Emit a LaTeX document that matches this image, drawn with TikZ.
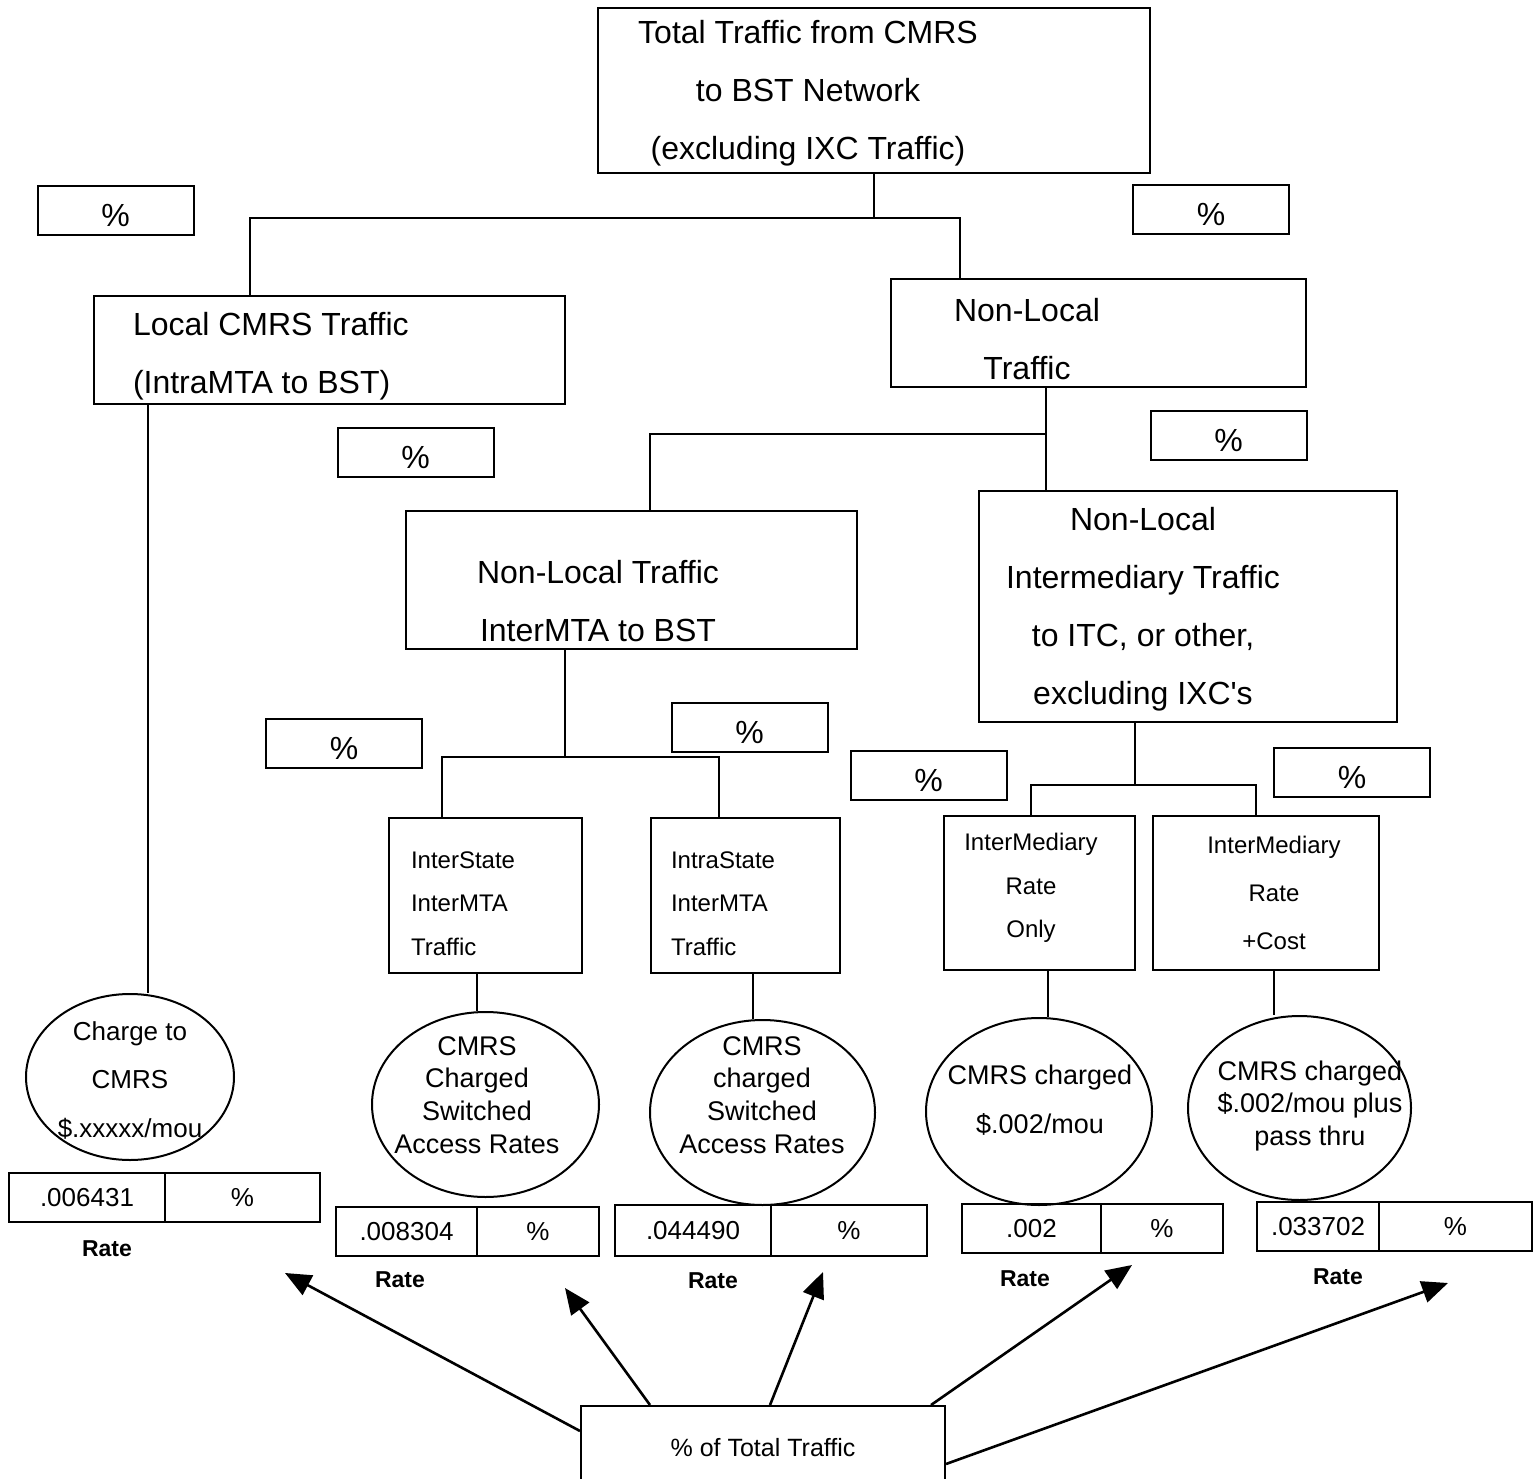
\documentclass[tikz,border=0pt]{standalone}
\usepackage{fontspec}
\setmainfont{Liberation Sans}
\usetikzlibrary{arrows.meta,shapes.geometric}

\tikzset{
  box/.style={draw, rectangle, inner sep=0pt},
  oval/.style={draw, ellipse, inner sep=0pt},
  bigtxt/.style={font=\fontsize{32}{58}\selectfont, align=center, inner sep=0pt},
  pct/.style={draw, rectangle, inner sep=0pt, minimum width=156, minimum height=49,
    font=\fontsize{32}{34}\selectfont, text height=32pt, text depth=0pt},
  cell/.style={draw, rectangle, inner sep=0pt, minimum height=49,
    font=\fontsize{26}{28}\selectfont},
  ratelbl/.style={font=\fontsize{23}{25}\selectfont\bfseries},
  arr/.style={line width=2.6pt, -{Triangle[length=26pt,width=22pt]}}
}

\begin{document}
\begin{tikzpicture}[x=1pt, y=-1pt, line width=2pt]
				\useasboundingbox (0,0) rectangle (1539,1479);

				% boxes
				\node (box1) [box, minimum width=552, minimum height=165] at (874,90.5) {};
				\node (box1t) [bigtxt] at (808,93) {Total Traffic from CMRS\\to BST Network\\(excluding IXC Traffic)};
				\node (box2) [box, minimum width=471, minimum height=108] at (329.5,350) {};
				\node (box2t) [bigtxt, align=left, anchor=west] at (132,356) {Local CMRS Traffic\\(IntraMTA to BST)};
				\node (box3) [box, minimum width=415, minimum height=108] at (1098.5,333) {};
				\node (box3t) [bigtxt] at (1027,339) {Non-Local\\Traffic};
				\node (box4) [box, minimum width=451, minimum height=138] at (631.5,580) {};
				\node (box4t) [bigtxt] at (598,601) {Non-Local Traffic\\InterMTA to BST};
				\node (box5) [box, minimum width=418, minimum height=231] at (1188,606.5) {};
				\node (box5t) [bigtxt] at (1143,609) {Non-Local\\Intermediary Traffic\\to ITC, or other,\\excluding IXC\textquotesingle s};
				\node (box6) [box, minimum width=193, minimum height=155] at (485.5,895.5) {};
				\node (box6t) [bigtxt, align=left, anchor=west, font=\fontsize{24}{43.5}\selectfont] at (410,903.5) {InterState\\InterMTA\\Traffic};
				\node (box7) [box, minimum width=189, minimum height=155] at (745.5,895.5) {};
				\node (box7t) [bigtxt, align=left, anchor=west, font=\fontsize{24}{43.5}\selectfont] at (670,903.5) {IntraState\\InterMTA\\Traffic};
				\node (box8) [box, minimum width=191, minimum height=154] at (1039.5,893) {};
				\node (box8t) [bigtxt, font=\fontsize{24}{43.5}\selectfont] at (1031,888) {InterMediary\\Rate\\Only};
				\node (box9) [box, minimum width=226, minimum height=154] at (1266,893) {};
				\node (box9t) [bigtxt, font=\fontsize{24}{48}\selectfont] at (1274,893) {InterMediary\\Rate\\+Cost};
				\node (box10) [box, minimum width=364, minimum height=110, text depth=28pt, font=\fontsize{25}{27}\selectfont] at (763,1461) {\% of Total Traffic};

				% percent boxes
				\node (pct1) [pct] at (115.5,211) {\%};
				\node (pct2) [pct] at (1211,210) {\%};
				\node (pct3) [pct] at (415.5,452.5) {\%};
				\node (pct4) [pct] at (1228.5,435.5) {\%};
				\node (pct5) [pct] at (344,743) {\%};
				\node (pct6) [pct] at (749.5,727) {\%};
				\node (pct7) [pct] at (928.5,775.5) {\%};
				\node (pct8) [pct] at (1352,772.5) {\%};

				% ovals
				\node (circ1) [oval, minimum width=208, minimum height=166] at (130,1077) {};
				\node (circ1t) [bigtxt, font=\fontsize{26}{48.5}\selectfont] at (130,1080) {Charge to\\CMRS\\\$.xxxxx/mou};
				\node (circ2) [oval, minimum width=227, minimum height=185] at (485.5,1104.5) {};
				\node (circ2t) [bigtxt, font=\fontsize{27}{32.7}\selectfont] at (477,1095) {CMRS\\Charged\\Switched\\Access Rates};
				\node (circ3) [oval, minimum width=225, minimum height=185] at (762.5,1112.5) {};
				\node (circ3t) [bigtxt, font=\fontsize{27}{32.7}\selectfont] at (762,1095) {CMRS\\charged\\Switched\\Access Rates};
				\node (circ4) [oval, minimum width=226, minimum height=187] at (1039,1111.5) {};
				\node (circ4t) [bigtxt, font=\fontsize{27}{49}\selectfont] at (1040,1100.5) {CMRS charged\\\$.002/mou};
				\node (circ5) [oval, minimum width=223, minimum height=184] at (1299.5,1108) {};
				\node (circ5t) [bigtxt, font=\fontsize{27}{32.5}\selectfont] at (1310,1106) {CMRS charged\\\$.002/mou plus\\pass thru};

				% rate tables
				\node (rate1a) [cell, minimum width=156] at (87,1197.5) {.006431};
				\node (rate1b) [cell, minimum width=155] at (242.5,1197.5) {\%};
				\node (rate1l) [ratelbl] at (107,1249) {Rate};
				\node (rate2a) [cell, minimum width=141] at (406.5,1231.5) {.008304};
				\node (rate2b) [cell, minimum width=122] at (538,1231.5) {\%};
				\node (rate2l) [ratelbl] at (400,1280) {Rate};
				\node (rate3a) [cell, minimum width=156, minimum height=51] at (693,1230.5) {.044490};
				\node (rate3b) [cell, minimum width=156, minimum height=51] at (849,1230.5) {\%};
				\node (rate3l) [ratelbl] at (713,1281) {Rate};
				\node (rate4a) [cell, minimum width=139] at (1031.5,1228.5) {.002};
				\node (rate4b) [cell, minimum width=122] at (1162,1228.5) {\%};
				\node (rate4l) [ratelbl] at (1025,1279) {Rate};
				\node (rate5a) [cell, minimum width=122] at (1318,1226.5) {.033702};
				\node (rate5b) [cell, minimum width=153] at (1455.5,1226.5) {\%};
				\node (rate5l) [ratelbl] at (1338,1277) {Rate};

				% tree lines
				\coordinate (j1) at (874,218);
				\coordinate (j2) at (1046,434);
				\coordinate (j3) at (565,757);
				\coordinate (j4) at (1135,785);
				\draw (box1.south) -- (j1);
				\draw (j1) -| ([xshift=-79.5]box2.north);
				\draw (j1) -| ([xshift=-138.5]box3.north);
				\draw ([xshift=-181.5]box2.south) -- ([xshift=-181.5]box2.south |- circ1.north);
				\draw ([xshift=-52.5]box3.south) -- ([xshift=-52.5]box3.south |- box5.north);
				\draw (j2) -| ([xshift=18.5]box4.north);
				\draw ([xshift=-66.5]box4.south) -- (j3);
				\draw (j3) -| ([xshift=-43.5]box6.north);
				\draw (j3) -| ([xshift=-26.5]box7.north);
				\draw ([xshift=-53]box5.south) -- (j4);
				\draw (j4) -| ([xshift=-8.5]box8.north);
				\draw (j4) -| ([xshift=-10]box9.north);
				\draw ([xshift=-8.5]box6.south) -- ([xshift=-8.5]box6.south |- circ2.north);
				\draw ([xshift=7.5]box7.south) -- ([xshift=7.5]box7.south |- circ3.north);
				\draw ([xshift=8.5]box8.south) -- ([xshift=8.5]box8.south |- circ4.north);
				\draw ([xshift=8]box9.south) -- ([xshift=8]box9.south |- circ5.north);

				% arrows
				\coordinate (t1) at (285,1273);
				\coordinate (t2) at (565,1288);
				\coordinate (t3) at (823,1272);
				\coordinate (t4) at (1132,1265);
				\coordinate (t5) at (1448,1283);
				\draw[arr] ([yshift=-26]box10.north west) -- (t1);
				\draw[arr] ([xshift=70]box10.north west) -- (t2);
				\draw[arr] ([xshift=190]box10.north west) -- (t3);
				\draw[arr] ([xshift=-15]box10.north east) -- (t4);
				\draw[arr] ([yshift=-59]box10.north east) -- (t5);
		\end{tikzpicture}
\end{document}
